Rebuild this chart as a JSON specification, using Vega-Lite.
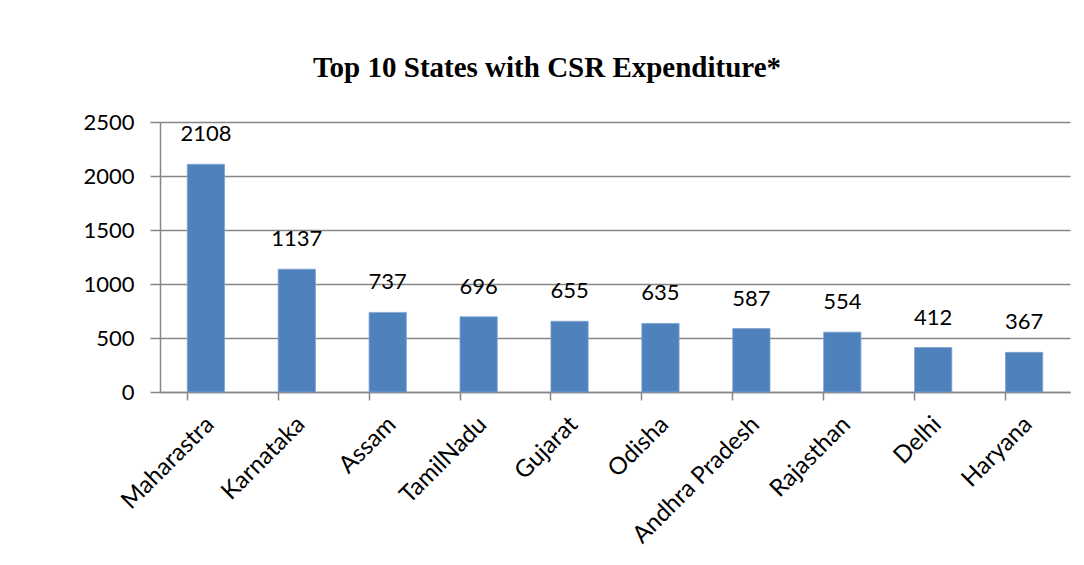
{
  "$schema": "https://vega.github.io/schema/vega-lite/v6.json",
  "width": 910,
  "height": 270,
  "autosize": {"type": "none"},
  "padding": {"left": 160, "top": 122, "right": 14, "bottom": 173},
  "background": "white",
  "title": {
    "text": "Top 10 States with CSR Expenditure*",
    "font": "Liberation Serif",
    "fontSize": 29,
    "fontWeight": "bold",
    "color": "black",
    "anchor": "middle",
    "dx": -68,
    "offset": 28
  },
  "data": {
    "values": [
      {"state": "Maharastra", "value": 2108},
      {"state": "Karnataka", "value": 1137},
      {"state": "Assam", "value": 737},
      {"state": "TamilNadu", "value": 696},
      {"state": "Gujarat", "value": 655},
      {"state": "Odisha", "value": 635},
      {"state": "Andhra Pradesh", "value": 587},
      {"state": "Rajasthan", "value": 554},
      {"state": "Delhi", "value": 412},
      {"state": "Haryana", "value": 367}
    ]
  },
  "encoding": {
    "x": {
      "field": "state",
      "type": "nominal",
      "sort": null,
      "scale": {"paddingInner": 0.59, "paddingOuter": 0.3},
      "axis": {
        "title": null,
        "labelAngle": -45,
        "labelAlign": "right",
        "labelBaseline": "top",
        "labelFont": "Lato",
        "labelFontSize": 24,
        "labelColor": "black",
        "labelPadding": 12,
        "labelOffset": -4,
        "bandPosition": 0,
        "ticks": true,
        "tickSize": 8,
        "tickColor": "#868686",
        "tickWidth": 1.5,
        "domainColor": "#868686",
        "domainWidth": 1.5,
        "grid": false
      }
    },
    "y": {
      "field": "value",
      "type": "quantitative",
      "scale": {"domain": [0, 2500], "nice": false},
      "axis": {
        "title": null,
        "format": "d",
        "values": [0, 500, 1000, 1500, 2000, 2500],
        "labelFont": "Lato",
        "labelFontSize": 22,
        "labelColor": "black",
        "labelPadding": 16,
        "tickSize": 10,
        "tickColor": "#868686",
        "tickWidth": 1.5,
        "domainColor": "#868686",
        "domainWidth": 1.5,
        "grid": true,
        "gridColor": "#868686",
        "gridWidth": 1.5
      }
    }
  },
  "layer": [
    {
      "mark": {"type": "bar", "color": "#4F81BD", "stroke": "#7FA3D0", "strokeWidth": 0.8}
    },
    {
      "mark": {"type": "text", "baseline": "bottom", "dy": -18, "font": "Lato", "fontSize": 22, "color": "black"},
      "encoding": {"text": {"field": "value", "type": "quantitative"}}
    }
  ],
  "config": {"view": {"stroke": null}}
}
